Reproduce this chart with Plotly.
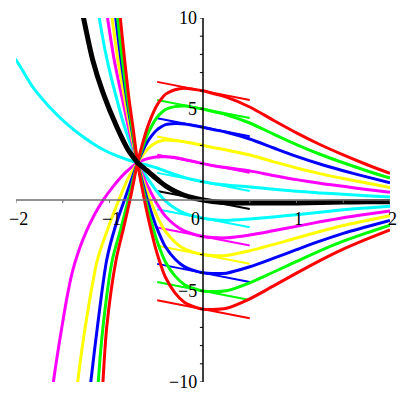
import plotly.graph_objects as go

# ---------------- data ----------------
x_right = [-0.7, -0.65, -0.6, -0.55, -0.5, -0.45, -0.4, -0.3, -0.2, -0.1, 0,
           0.1, 0.25, 0.5, 0.75, 1.0, 1.25, 1.5, 1.75, 2.0]

# curves with y(0)=k (k>0 fall to -inf on the left)
red_pos_lx = [-1.08, -1.07, -1.03, -0.93, -0.85, -0.775]
red_pos_ly = [-11, -10, -7, -3.3, -1.55, 0.15]
red_pos_r = [2.05, 3.03, 3.90, 4.58, 5.14, 5.53, 5.82, 6.06, 6.14, 6.08, 6.0,
             5.86, 5.65, 5.11, 4.39, 3.69, 3.05, 2.48, 1.95, 1.46]

green_pos_lx = [-1.13, -1.12, -1.07, -0.97, -0.88, -0.795]
green_pos_ly = [-11, -10, -7, -3.3, -1.6, 0.1]
green_pos_r = [2.05, 2.83, 3.52, 4.05, 4.48, 4.77, 4.98, 5.13, 5.16, 5.09, 5.0,
               4.87, 4.685, 4.23, 3.63, 3.045, 2.515, 2.045, 1.61, 1.20]

blue_pos_lx = [-1.22, -1.20, -1.13, -1.03, -0.94, -0.84]
blue_pos_ly = [-11, -10, -7, -3.3, -1.5, 0]
blue_pos_r = [2.05, 2.63, 3.14, 3.52, 3.82, 4.01, 4.14, 4.20, 4.18, 4.09, 4.0,
              3.88, 3.72, 3.35, 2.87, 2.40, 1.98, 1.61, 1.27, 0.94]

yellow_pos_lx = [-1.36, -1.34, -1.26, -1.13, -1.01, -0.90, -0.80]
yellow_pos_ly = [-11, -10, -7, -3.3, -1.47, 0, 1.2]
yellow_pos_r = [2.05, 2.43, 2.76, 2.99, 3.16, 3.25, 3.30, 3.27, 3.20, 3.10, 3.0,
                2.89, 2.75, 2.47, 2.11, 1.76, 1.45, 1.18, 0.93, 0.68]

magenta_pos_lx = [-1.62, -1.60, -1.56, -1.51, -1.46, -1.40, -1.33, -1.25, -1.16,
                  -1.08, -0.96, -0.83]
magenta_pos_ly = [-11, -10, -8.6, -7.0, -5.5, -4.0, -2.8, -1.75, -0.8,
                  -0.1, 0.75, 1.5]
magenta_pos_r = [2.05, 2.17, 2.26, 2.32, 2.36, 2.38, 2.38, 2.33, 2.23, 2.12, 2.0,
                 1.90, 1.78, 1.60, 1.35, 1.12, 0.92, 0.75, 0.58, 0.43]

cyan_pos_lx = [-2.05, -2.0, -1.82, -1.64, -1.46, -1.28, -1.10, -0.92, -0.80]
cyan_pos_ly = [8.0, 7.7, 6.2, 5.1, 4.2, 3.46, 2.86, 2.42, 2.2]
cyan_pos_r = [2.05, 1.98, 1.92, 1.85, 1.77, 1.68, 1.59, 1.40, 1.24, 1.11, 1.0,
              0.91, 0.82, 0.72, 0.59, 0.48, 0.39, 0.32, 0.24, 0.17]

# curves with y(0)=k (k<0 rise to +inf on the left)
cyan_neg_lx = [-1.16, -1.12, -1.05, -0.99, -0.92, -0.85, -0.77]
cyan_neg_ly = [11.5, 10.3, 8.3, 6.9, 5.5, 4.2, 3.0]
cyan_neg_r = [2.05, 1.63, 1.24, 0.87, 0.52, 0.21, -0.06, -0.45, -0.72, -0.885, -1.0,
              -1.07, -1.12, -1.04, -0.93, -0.81, -0.67, -0.54, -0.44, -0.35]

magenta_neg_lx = [-1.065, -1.03, -0.95, -0.86, -0.78]
magenta_neg_ly = [11.5, 10.3, 7.7, 5.5, 3.6]
magenta_neg_r = [2.05, 1.43, 0.86, 0.34, -0.14, -0.55, -0.90, -1.38, -1.70, -1.88, -2.0,
                 -2.06, -2.08, -1.92, -1.69, -1.45, -1.20, -0.97, -0.78, -0.61]

yellow_neg_lx = [-1.01, -0.98, -0.91, -0.835, -0.77]
yellow_neg_ly = [11.5, 10.3, 7.7, 5.5, 3.7]
yellow_neg_r = [2.05, 1.23, 0.48, -0.19, -0.80, -1.31, -1.74, -2.31, -2.68, -2.875, -3.0,
                -3.05, -3.05, -2.79, -2.45, -2.09, -1.73, -1.40, -1.13, -0.86]

blue_neg_lx = [-0.965, -0.94, -0.88, -0.815, -0.76]
blue_neg_ly = [11.5, 10.3, 7.8, 5.5, 3.8]
blue_neg_r = [2.05, 1.03, 0.10, -0.72, -1.46, -2.07, -2.58, -3.24, -3.66, -3.87, -4.0,
              -4.04, -4.02, -3.67, -3.21, -2.73, -2.26, -1.83, -1.47, -1.12]

green_neg_lx = [-0.943, -0.92, -0.865, -0.805, -0.755]
green_neg_ly = [11.5, 10.3, 7.8, 5.5, 3.85]
green_neg_r = [2.05, 0.83, -0.28, -1.25, -2.12, -2.83, -3.42, -4.17, -4.64, -4.865, -5.0,
               -5.03, -4.985, -4.55, -3.97, -3.375, -2.795, -2.265, -1.81, -1.38]

red_neg_lx = [-0.91, -0.89, -0.84, -0.79, -0.745]
red_neg_ly = [11.5, 10.3, 7.8, 5.5, 3.85]
red_neg_r = [2.05, 0.63, -0.66, -1.78, -2.78, -3.59, -4.26, -5.10, -5.62, -5.86, -6.0,
             -6.02, -5.95, -5.43, -4.73, -4.02, -3.33, -2.70, -2.15, -1.64]

black_lx = [-1.34, -1.29, -1.18, -1.07, -0.92, -0.80, -0.75]
black_ly = [11.5, 10.3, 7.7, 5.9, 4.0, 2.75, 2.38]
black_r = [2.05, 1.83, 1.62, 1.40, 1.18, 0.97, 0.78, 0.48, 0.26, 0.11, 0.0,
           -0.08, -0.15, -0.16, -0.17, -0.165, -0.14, -0.11, -0.10, -0.09]

# tangent segments at x = 0 (slope -1)
tan_x = [-0.49, 0.50]
tan_levels = [6, 5, 4, 3, 2, 1, 0, -1, -2, -3, -4, -5, -6]
tan_y = [[6.49, 5.5], [5.49, 4.5], [4.49, 3.5], [3.49, 2.5], [2.49, 1.5],
         [1.49, 0.5], [0.49, -0.5], [-0.51, -1.5], [-1.51, -2.5], [-2.51, -3.5],
         [-3.51, -4.5], [-4.51, -5.5], [-5.51, -6.5]]

x_ticks = [-2, -1.5, -1, -0.5, 0.5, 1, 1.5, 2]
y_ticks = [-10, -9, -8, -7, -6, -5, -4, -3, -2, -1, 1, 2, 3, 4, 5, 6, 7, 8, 9, 10]
x_labels = [(-2, "\u22122"), (-1, "\u22121"), (1, "1"), (2, "2")]
y_labels = [(10, "10"), (5, "5"), (-5, "\u22125"), (-10, "\u221210")]

# ---------------- styles ----------------
RED, GREEN, BLUE = "#ff0000", "#00ff00", "#0000ff"
YELLOW, MAGENTA, CYAN = "#ffff00", "#ff00ff", "#00ffff"
level_colors = {6: RED, 5: GREEN, 4: BLUE, 3: YELLOW, 2: MAGENTA, 1: CYAN, 0: "#000000",
                -1: CYAN, -2: MAGENTA, -3: YELLOW, -4: BLUE, -5: GREEN, -6: RED}

fig = go.Figure()

# tangent segments
for k, ty in zip(tan_levels, tan_y):
    fig.add_trace(go.Scatter(x=tan_x, y=ty, mode="lines",
                             line=dict(color=level_colors[k], width=2),
                             hoverinfo="skip"))

curves = [
    (cyan_pos_lx, cyan_pos_ly, cyan_pos_r, CYAN),
    (cyan_neg_lx, cyan_neg_ly, cyan_neg_r, CYAN),
    (magenta_pos_lx, magenta_pos_ly, magenta_pos_r, MAGENTA),
    (magenta_neg_lx, magenta_neg_ly, magenta_neg_r, MAGENTA),
    (yellow_pos_lx, yellow_pos_ly, yellow_pos_r, YELLOW),
    (yellow_neg_lx, yellow_neg_ly, yellow_neg_r, YELLOW),
    (blue_pos_lx, blue_pos_ly, blue_pos_r, BLUE),
    (blue_neg_lx, blue_neg_ly, blue_neg_r, BLUE),
    (green_pos_lx, green_pos_ly, green_pos_r, GREEN),
    (green_neg_lx, green_neg_ly, green_neg_r, GREEN),
    (red_pos_lx, red_pos_ly, red_pos_r, RED),
    (red_neg_lx, red_neg_ly, red_neg_r, RED),
]
for lx, ly, ry, col in curves:
    fig.add_trace(go.Scatter(x=lx + x_right, y=ly + ry, mode="lines",
                             line=dict(color=col, width=3, shape="spline", smoothing=0.8),
                             hoverinfo="skip"))

fig.add_trace(go.Scatter(x=black_lx + x_right, y=black_ly + black_r, mode="lines",
                         line=dict(color="#000000", width=5, shape="spline", smoothing=0.8),
                         hoverinfo="skip"))

# axes drawn through the origin
fig.add_trace(go.Scatter(x=[-2, 2], y=[0, 0], mode="lines",
                         line=dict(color="#6e6e6e", width=1.5), hoverinfo="skip"))
fig.add_trace(go.Scatter(x=[0, 0], y=[-10, 10], mode="lines",
                         line=dict(color="#000000", width=1.5), hoverinfo="skip"))
tx, ty_ = [], []
for t in x_ticks:
    tx += [t, t, None]
    ty_ += [0, -0.17, None]
fig.add_trace(go.Scatter(x=tx, y=ty_, mode="lines",
                         line=dict(color="#6e6e6e", width=1), hoverinfo="skip"))
ux, uy = [], []
for t in y_ticks:
    ux += [0, -0.033, None]
    uy += [t, t, None]
fig.add_trace(go.Scatter(x=ux, y=uy, mode="lines",
                         line=dict(color="#000000", width=1), hoverinfo="skip"))

font = dict(family="Liberation Serif, Times New Roman, serif", size=18, color="#000000")
ann = []
for v, s in x_labels:
    ann.append(dict(x=v, y=-1.05, xref="x", yref="y", text=s, showarrow=False,
                    xanchor="center", yanchor="middle", font=font, xshift=2))
ann.append(dict(x=0, y=-1.05, xref="x", yref="y", text="0", showarrow=False,
                xanchor="right", yanchor="middle", font=font, xshift=-1))
for v, s in y_labels:
    ann.append(dict(x=0, y=v, xref="x", yref="y", text=s, showarrow=False,
                    xanchor="right", yanchor="middle", font=font, xshift=-4))

fig.update_layout(
    width=400, height=400,
    margin=dict(l=16, r=10, t=18, b=18),
    paper_bgcolor="white", plot_bgcolor="white",
    showlegend=False,
    xaxis=dict(range=[-2, 2], visible=False, fixedrange=True),
    yaxis=dict(range=[-10, 10], visible=False, fixedrange=True),
    annotations=ann,
)

fig.write_html("out.html", config={"displayModeBar": False},
               post_script="document.body.style.margin='0px';document.body.style.overflow='hidden';")
